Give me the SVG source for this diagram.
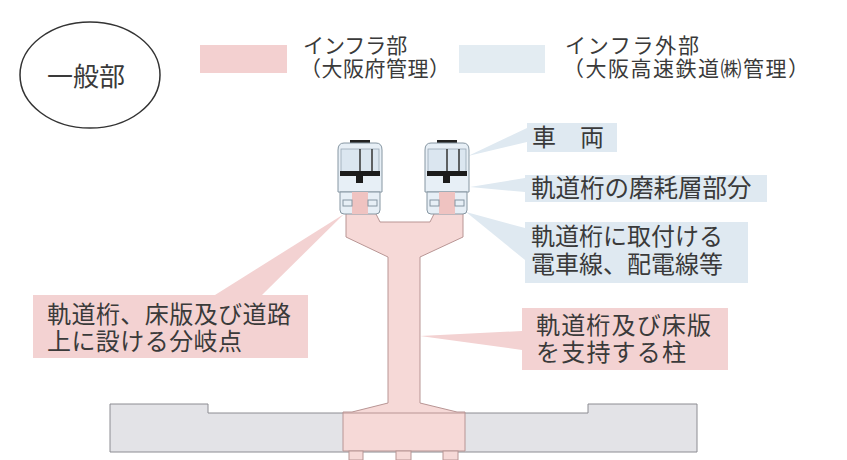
<svg xmlns="http://www.w3.org/2000/svg" width="847" height="460" viewBox="0 0 847 460">
  <style>
    .t { font-family: "Noto Sans CJK JP", "Noto Sans", sans-serif; fill: #3a3a3a; }
    .pinkbox { fill: #f3d2d2; }
    .bluebox { fill: #dfe9f1; }
    .pinkptr { fill: #f3d2d2; }
    .blueptr { fill: #dfe9f1; }
    .pier { fill: #f6d9d7; stroke: #b89594; stroke-width: 1; }
    .slab { fill: #e3e3e7; stroke: #8c8c92; stroke-width: 1; }
    .tb { fill: #e7eff6; stroke: #8696a2; stroke-width: 1; }
  </style>
  <defs>
    <symbol id="train" viewBox="0 0 48 76" width="48" height="76" overflow="visible">
      <rect x="14" y="0" width="20" height="4" fill="#222"/>
      <path class="tb" d="M2,10 Q2,3 8,3 H40 Q46,3 46,10 V52 H2 Z"/>
      <rect x="5" y="9" width="38" height="23" fill="#dbe6f0" stroke="#9aa8b4" stroke-width="0.8"/>
      <line x1="24" y1="9" x2="24" y2="32" stroke="#333" stroke-width="1.5"/>
      <line x1="36" y1="9" x2="36" y2="32" stroke="#333" stroke-width="1.5"/>
      <rect x="4" y="31" width="40" height="5" fill="#1c1c1c"/>
      <rect x="20" y="36" width="7" height="7" fill="#1c1c1c"/>
      <path class="tb" d="M4,52 H44 V70 Q44,74 40,74 H8 Q4,74 4,70 Z"/>
      <rect x="16" y="52" width="16" height="22" fill="#efc3c1"/>
      <rect x="7" y="60" width="9" height="6" class="tb" stroke-width="0.8"/>
      <rect x="32" y="60" width="9" height="6" class="tb" stroke-width="0.8"/>
    </symbol>
  </defs>

  <!-- legend -->
  <g id="legend-general">
    <ellipse cx="90" cy="75" rx="70" ry="53" fill="#fff" stroke="#333" stroke-width="1.5"/>
    <text class="t" x="47" y="86" font-size="26">一般部</text>
  </g>
  <g id="legend-infra">
    <rect x="200" y="45" width="87" height="28" fill="#f3d0d0"/>
    <text class="t" font-size="21">
      <tspan x="303" y="53">インフラ部</tspan>
      <tspan x="300" y="76" textLength="150">（大阪府管理）</tspan>
    </text>
  </g>
  <g id="legend-outside">
    <rect x="459" y="45" width="86" height="28" fill="#e3ecf2"/>
    <text class="t" font-size="21">
      <tspan x="565" y="53" textLength="134">インフラ外部</tspan>
      <tspan x="563" y="76" textLength="246">（大阪高速鉄道㈱管理）</tspan>
    </text>
  </g>

  <!-- connectors (callout pointers) -->
  <g id="connectors">
    <polygon class="blueptr" points="468,156 527,128 527,142"/>
    <polygon class="blueptr" points="470,187 525,178 525,192"/>
    <polygon class="blueptr" points="466,212 525,228 525,260"/>
    <polygon class="pinkptr" points="344,214 215,295 262,295"/>
    <polygon class="pinkptr" points="420,336 522,331 522,350"/>
  </g>

  <!-- ground slab -->
  <g id="ground">
    <path class="slab" d="M110,404 H208 V413 H588 V404 H697 V452 H110 Z"/>
  </g>

  <!-- pier: Y-shaped head, column and footing -->
  <g id="pier">
    <path class="pier" d="M346,212 H375 L380,222 H430 L435,212 H463 V237 L420,257 V403 L457,412 H465 V451 H343 V412 H352 L388,403 V257 L346,237 Z"/>
    <line x1="343" y1="413" x2="465" y2="413" stroke="#b89594" stroke-width="1"/>
    <rect class="pier" x="349" y="451" width="14" height="9"/>
    <rect class="pier" x="396" y="451" width="15" height="9"/>
    <rect class="pier" x="443" y="451" width="15" height="9"/>
  </g>

  <!-- vehicles -->
  <g id="train-left">
    <use href="#train" x="336" y="140"/>
  </g>
  <g id="train-right">
    <use href="#train" x="423" y="140"/>
  </g>

  <!-- callouts -->
  <g id="callout-vehicle">
    <rect class="bluebox" x="527" y="123" width="90" height="29"/>
    <text class="t" x="532" y="146" font-size="24">車　両</text>
  </g>
  <g id="callout-wear">
    <rect class="bluebox" x="525" y="175" width="242" height="27"/>
    <text class="t" x="531" y="197" font-size="24.5">軌道桁の磨耗層部分</text>
  </g>
  <g id="callout-wires">
    <rect class="bluebox" x="525" y="222" width="223" height="61"/>
    <text class="t" font-size="24">
      <tspan x="531" y="245" textLength="192">軌道桁に取付ける</tspan>
      <tspan x="531" y="273" textLength="192">電車線、配電線等</tspan>
    </text>
  </g>
  <g id="callout-branch">
    <rect class="pinkbox" x="33" y="295" width="275" height="63"/>
    <text class="t" font-size="24">
      <tspan x="47" y="323" textLength="244">軌道桁、床版及び道路</tspan>
      <tspan x="47" y="350" textLength="195">上に設ける分岐点</tspan>
    </text>
  </g>
  <g id="callout-column">
    <rect class="pinkbox" x="522" y="308" width="206" height="62"/>
    <text class="t" font-size="24">
      <tspan x="536" y="334" textLength="175">軌道桁及び床版</tspan>
      <tspan x="536" y="361" textLength="150">を支持する柱</tspan>
    </text>
  </g>
</svg>
